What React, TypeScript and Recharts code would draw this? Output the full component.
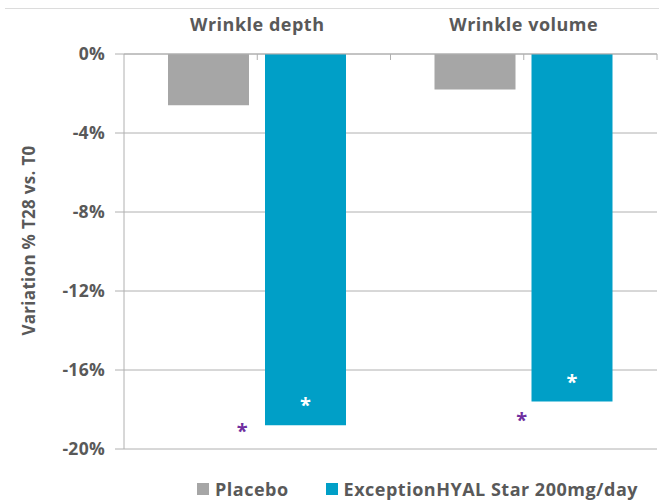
import React from "react";
import {
  ComposedChart,
  Bar,
  Scatter,
  XAxis,
  YAxis,
  CartesianGrid,
  Legend,
  LabelList,
} from "recharts";

const CATEGORIES = ["Wrinkle depth", "Wrinkle volume"];
const PLACEBO = [-2.6, -1.8];
const HYAL = [-18.8, -17.6];
// level of the purple significance star, in %
const PURPLE_STAR = [-18.9, -18.35];
const Y_TICKS = [0, -4, -8, -12, -16, -20];

const SERIES = [
  { key: "placebo", name: "Placebo", color: "#a6a6a6" },
  { key: "hyal", name: "ExceptionHYAL Star 200mg/day", color: "#009fc7" },
];

const FONT = "'Open Sans', 'DejaVu Sans', sans-serif";
const TEXT = "#595959";
const LINE = "#b0b0b0";
const STAR_DX = [-15, -2];

const data = CATEGORIES.map((name, i) => ({
  name,
  placebo: PLACEBO[i],
  hyal: HYAL[i],
  star: PURPLE_STAR[i],
}));

const CategoryTick = (props: any) => {
  const { x, y, payload } = props;
  const band = (props.width || 533) / CATEGORIES.length;
  return (
    <g>
      <text
        x={x}
        y={y - 23}
        textAnchor="middle"
        fill={TEXT}
        fontFamily={FONT}
        fontWeight={700}
        fontSize={18}
        letterSpacing={0.5}
      >
        {payload.value}
      </text>
      <line x1={x} x2={x} y1={y} y2={y + 6} stroke={LINE} />
      <line x1={x + band / 2} x2={x + band / 2} y1={y} y2={y + 6} stroke={LINE} />
    </g>
  );
};

const YLabel = (props: any) => {
  const vb = props.viewBox || { x: 0, y: 54, width: 124, height: 395 };
  const cx = vb.x + 28;
  const cy = vb.y + vb.height / 2 - 11;
  return (
    <text
      x={cx}
      y={cy}
      transform={`rotate(-90, ${cx}, ${cy})`}
      textAnchor="middle"
      dominantBaseline="central"
      fill={TEXT}
      fontFamily={FONT}
      fontWeight={700}
      fontSize={17}
      letterSpacing={0.3}
    >
      Variation % T28 vs. T0
    </text>
  );
};

const WhiteStar = (p: any) => {
  const bottom = Math.max(p.y, p.y + p.height);
  return (
    <text
      x={p.x + p.width / 2}
      y={bottom - 24 + 11}
      textAnchor="middle"
      fill="#ffffff"
      fontFamily={FONT}
      fontWeight={700}
      fontSize={20}
    >
      *
    </text>
  );
};

const PurpleStar = (p: any) => {
  const i = CATEGORIES.indexOf(p.payload?.name);
  return (
    <text
      x={p.cx + (STAR_DX[i] || 0)}
      y={p.cy + 11}
      textAnchor="middle"
      fill="#7030a0"
      fontFamily={FONT}
      fontWeight={700}
      fontSize={20}
    >
      *
    </text>
  );
};

const LegendContent = () => (
  <div
    style={{
      display: "flex",
      alignItems: "center",
      fontFamily: FONT,
      fontWeight: 700,
      fontSize: 18,
      letterSpacing: 0.5,
      color: TEXT,
      whiteSpace: "nowrap",
    }}
  >
    {SERIES.map((s, i) => (
      <span
        key={s.key}
        style={{ display: "flex", alignItems: "center", marginRight: i === 0 ? 37 : 0 }}
      >
        <span
          style={{ width: 12, height: 12, background: s.color, marginRight: 6, display: "inline-block" }}
        />
        {s.name}
      </span>
    ))}
  </div>
);

export default function App() {
  return (
    <div style={{ position: "absolute", left: 0, top: 0, width: 659, height: 502, background: "#fff" }}>
      <div
        style={{ position: "absolute", left: 5, right: 0, top: 8, borderTop: "1px solid #dcdcdc" }}
      />
      <ComposedChart
        width={659}
        height={502}
        data={data}
        margin={{ top: 0, right: 2, bottom: 53, left: 0 }}
        barSize={81}
        barGap={16}
      >
        <CartesianGrid vertical={false} stroke={LINE} />
        <XAxis
          dataKey="name"
          orientation="top"
          height={54}
          tickSize={0}
          tickMargin={0}
          tickLine={false}
          axisLine={{ stroke: LINE }}
          tick={<CategoryTick />}
          interval={0}
        />
        <YAxis
          type="number"
          domain={[-20, 0]}
          ticks={Y_TICKS}
          width={124}
          tickSize={9}
          tickMargin={10}
          tickFormatter={(v: number) => `${v}%`}
          tick={{ fill: TEXT, fontFamily: FONT, fontWeight: 700, fontSize: 17.5, letterSpacing: 0.3 }}
          axisLine={{ stroke: LINE }}
          tickLine={{ stroke: LINE }}
          label={<YLabel />}
        />
        {SERIES.map((s) => (
          <Bar key={s.key} dataKey={s.key} name={s.name} fill={s.color} isAnimationActive={false}>
            {s.key === "hyal" && <LabelList dataKey="hyal" content={<WhiteStar />} />}
          </Bar>
        ))}
        <Scatter dataKey="star" shape={<PurpleStar />} isAnimationActive={false} legendType="none" />
        <Legend
          layout="vertical"
          align="center"
          verticalAlign="middle"
          content={<LegendContent />}
          wrapperStyle={{ left: 197, top: 477, width: "auto", height: "auto" }}
        />
      </ComposedChart>
    </div>
  );
}
